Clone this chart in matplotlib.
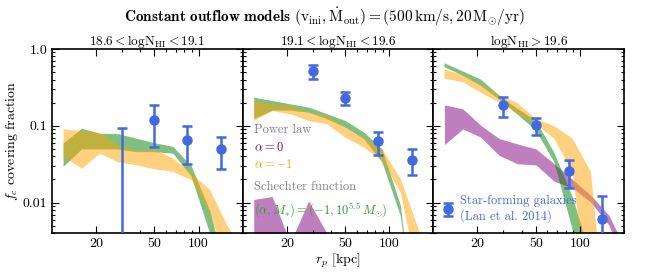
import matplotlib
matplotlib.use('Agg')
import matplotlib.pyplot as plt

# computer modern look
plt.rcParams['font.family'] = 'serif'
plt.rcParams['font.serif'] = ['cmr10', 'DejaVu Serif']
plt.rcParams['mathtext.fontset'] = 'cm'
plt.rcParams['axes.unicode_minus'] = False
plt.rcParams['axes.formatter.use_mathtext'] = True

# model radial grid [kpc]
rp = [11.9, 15.9, 21.1, 28.2, 37.6, 50.1, 66.8, 89.1, 119, 158, 211]

# 18.6 < logN < 19.1
green_lo_1 = [0.0296, 0.050, 0.050, 0.050, 0.046, 0.046, 0.044, 0.022, 0.004, 0.0003, 1e-4]
green_hi_1 = [0.0596, 0.093, 0.080, 0.079, 0.069, 0.060, 0.054, 0.030, 0.008, 0.001, 1e-4]
orange_lo_1 = [0.040, 0.028, 0.044, 0.034, 0.031, 0.0275, 0.0255, 0.0199, 0.0074, 0.0015, 1e-4]
orange_hi_1 = [0.091, 0.087, 0.082, 0.056, 0.048, 0.049, 0.038, 0.0243, 0.0148, 0.0049, 0.002]
purple_lo_1 = [1e-4, 1e-4, 1e-4, 1e-4, 1e-4, 1e-4, 1e-4, 1e-4, 1e-4, 1e-4, 1e-4]
purple_hi_1 = [0.002, 0.002, 0.001, 0.001, 0.001, 1e-4, 1e-4, 1e-4, 1e-4, 1e-4, 1e-4]

# 19.1 < logN < 19.6
green_lo_2 = [0.125, 0.16, 0.16, 0.150, 0.123, 0.096, 0.068, 0.034, 0.0068, 1e-4, 1e-4]
green_hi_2 = [0.236, 0.213, 0.193, 0.175, 0.143, 0.117, 0.083, 0.050, 0.0093, 1e-4, 1e-4]
orange_lo_2 = [0.117, 0.158, 0.143, 0.117, 0.106, 0.071, 0.0528, 0.0355, 0.0137, 0.001, 1e-4]
orange_hi_2 = [0.213, 0.193, 0.184, 0.150, 0.136, 0.096, 0.071, 0.050, 0.0205, 0.0045, 0.0005]
purple_lo_2 = [1e-4, 1e-4, 1e-4, 1e-4, 1e-4, 1e-4, 1e-4, 1e-4, 1e-4, 1e-4, 1e-4]
purple_hi_2 = [0.011, 0.012, 0.003, 0.0105, 0.004, 0.001, 1e-4, 1e-4, 1e-4, 1e-4, 1e-4]

# logN > 19.6
green_lo_3 = [0.58, 0.45, 0.33, 0.22, 0.14, 0.087, 0.034, 0.0045, 0.0005, 1e-4, 1e-4]
green_hi_3 = [0.65, 0.51, 0.40, 0.248, 0.166, 0.117, 0.045, 0.012, 0.002, 1e-4, 1e-4]
orange_lo_3 = [0.41, 0.37, 0.27, 0.20, 0.143, 0.106, 0.068, 0.025, 3e-4, 1e-4, 1e-4]
orange_hi_3 = [0.54, 0.46, 0.35, 0.248, 0.197, 0.123, 0.099, 0.068, 0.025, 1e-4, 1e-4]
purple_lo_3 = [0.057, 0.091, 0.071, 0.041, 0.032, 0.031, 0.019, 0.0155, 0.0101, 0.0051, 0.0012]
purple_hi_3 = [0.187, 0.166, 0.101, 0.068, 0.058, 0.050, 0.032, 0.020, 0.0124, 0.0068, 0.0022]

# Lan et al. 2014 star-forming galaxies
rp_obs = [30, 50, 84, 142]
fc_obs_1 = [0.001, 0.12, 0.0645, 0.050]
fc_top_1 = [0.093, 0.184, 0.100, 0.0714]
fc_bot_1 = [0.0005, 0.053, 0.0317, 0.0276]
fc_obs_2 = [0.51, 0.229, 0.0626, 0.036]
fc_top_2 = [0.62, 0.273, 0.0842, 0.050]
fc_bot_2 = [0.408, 0.184, 0.042, 0.023]
fc_obs_3 = [0.184, 0.103, 0.0255, 0.0062]
fc_top_3 = [0.236, 0.127, 0.0355, 0.0121]
fc_bot_3 = [0.132, 0.077, 0.0156, 0.0005]

titles = [r'$18.6 < \mathrm{logN_{HI}} < 19.1$',
          r'$19.1 < \mathrm{logN_{HI}} < 19.6$',
          r'$\mathrm{logN_{HI}} > 19.6$']

panels = [
    (green_lo_1, green_hi_1, orange_lo_1, orange_hi_1, purple_lo_1, purple_hi_1, fc_obs_1, fc_bot_1, fc_top_1),
    (green_lo_2, green_hi_2, orange_lo_2, orange_hi_2, purple_lo_2, purple_hi_2, fc_obs_2, fc_bot_2, fc_top_2),
    (green_lo_3, green_hi_3, orange_lo_3, orange_hi_3, purple_lo_3, purple_hi_3, fc_obs_3, fc_bot_3, fc_top_3),
]

fig, axes = plt.subplots(1, 3, figsize=(6.5, 2.75), dpi=100, sharey=True)
fig.subplots_adjust(left=0.08, right=0.96, bottom=0.152, top=0.822, wspace=0)

for i, ax in enumerate(axes):
    g_lo, g_hi, o_lo, o_hi, p_lo, p_hi, obs, bot, top = panels[i]

    ax.fill_between(rp, p_lo, p_hi, color='purple', alpha=0.5, lw=0)
    ax.fill_between(rp, g_lo, g_hi, color='green', alpha=0.5, lw=0)
    ax.fill_between(rp, o_lo, o_hi, color='orange', alpha=0.5, lw=0)

    yerr = [[o - b for o, b in zip(obs, bot)], [t - o for o, t in zip(obs, top)]]
    eb = ax.errorbar(rp_obs, obs, yerr=yerr, fmt='o', color='royalblue', ms=6.5,
                     elinewidth=1.8, capsize=3.5, capthick=1.8, zorder=5)

    ax.set_xscale('log')
    ax.set_yscale('log')
    ax.set_xlim(10, 200)
    ax.set_ylim(0.004, 1.0)

    ax.set_xticks([20, 50, 100])
    ax.set_xticklabels(['20', '50', '100'])
    ax.set_xticks([30, 40, 60, 70, 80, 90, 200], minor=True)
    ax.set_yticks([0.01, 0.1, 1.0])
    ax.set_yticklabels(['0.01', '0.1', '1.0'])
    ax.tick_params(which='both', direction='in', top=True, right=True, labelsize=10, width=0.8)
    ax.tick_params(which='major', length=5)
    ax.tick_params(which='minor', length=2.5)
    ax.tick_params(axis='x', which='minor', labelbottom=False)
    for s in ax.spines.values():
        s.set_linewidth(1.2)

    ax.set_title(titles[i], fontsize=9.5, pad=3)

axes[0].set_ylabel(r'$f_c$ covering fraction', fontsize=10, labelpad=2)
axes[1].set_xlabel(r'$r_p$ [kpc]', fontsize=10, labelpad=1)

# model key in middle panel
tr = axes[1].transAxes
axes[1].text(0.06, 0.56, 'Power law', color='gray', fontsize=9, va='center', transform=tr)
axes[1].text(0.06, 0.467, r'$\alpha = 0$', color='purple', fontsize=9, va='center', transform=tr)
axes[1].text(0.06, 0.373, r'$\alpha = -1$', color='orange', fontsize=9, va='center', transform=tr)
axes[1].text(0.06, 0.25, 'Schechter function', color='gray', fontsize=9, va='center', transform=tr)
axes[1].text(0.06, 0.124, r'$(\alpha, M_{*}) = (-1, 10^{5.5}\,M_{\odot})$', color='#2e9a2e',
             fontsize=9, va='center', transform=tr)

axes[2].legend([eb], ['Star-forming galaxies\n(Lan et al. 2014)'], loc='lower left',
               frameon=False, fontsize=9, labelcolor='royalblue', handlelength=0.8,
               handletextpad=0.5, borderaxespad=0.6, borderpad=0.2)

fig.text(0.5, 0.938, r'$\mathbf{Constant\ outflow\ models}\ (\mathrm{v_{ini}}, \dot{\mathrm{M}}_{\mathrm{out}})'
         r' = (500\,\mathrm{km/s}, 20\,\mathrm{M_{\odot}/yr})$', fontsize=11, ha='center', va='center')

plt.savefig('out.png', dpi=100)
